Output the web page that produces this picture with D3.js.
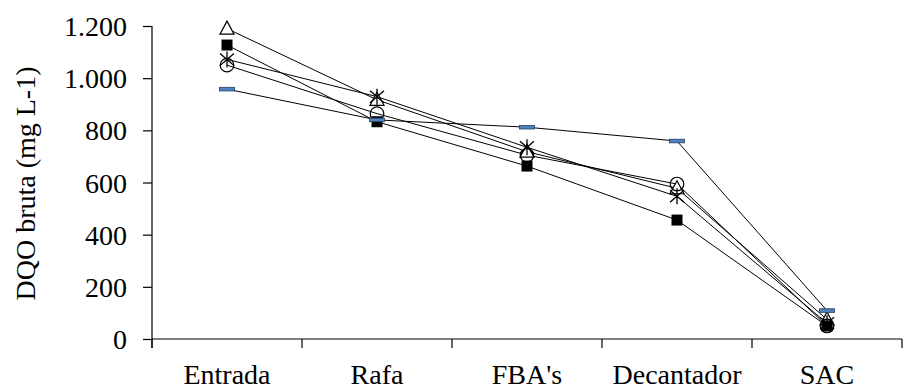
<!DOCTYPE html>
<html>
<head>
<meta charset="utf-8">
<script src="https://cdn.jsdelivr.net/npm/d3@7"></script>
<style>
  html, body { margin: 0; padding: 0; background: #fff; }
</style>
</head>
<body>
<svg id="chart" width="917" height="390"></svg>
<script>
// Treatment stages along the plant
const categories = ["Entrada", "Rafa", "FBA's", "Decantador", "SAC"];

// Raw COD (mg/L) per sampling campaign
const seriesTriangle = [1190, 917, 718, 578, 75];
const seriesSquare   = [1127, 833, 663, 456, 50];
const seriesStar     = [1072, 929, 735, 547, 60];
const seriesCircle   = [1050, 864, 705, 594, 50];
const seriesDash     = [958, 840, 812, 759, 109];

const yTicks = [0, 200, 400, 600, 800, 1000, 1200];
const yTitle = "DQO bruta (mg L-1)";

const series = [
  { name: "triangle", values: seriesTriangle },
  { name: "square",   values: seriesSquare },
  { name: "star",     values: seriesStar },
  { name: "circle",   values: seriesCircle },
  { name: "dash",     values: seriesDash }
];

const serif = "'Liberation Serif'";
const svg = d3.select("#chart");
const plotLeft = 152, plotRight = 902, plotTop = 26, plotBottom = 339;
const fontSize = 28;

const x = d3.scaleBand().domain(categories).range([plotLeft, plotRight]).padding(0);
const y = d3.scaleLinear().domain([0, 1200]).range([plotBottom, plotTop]);

const ptBR = d3.formatLocale({ decimal: ",", thousands: ".", grouping: [3], currency: ["", ""] });
const fmt = ptBR.format(",");

// Y axis
const yAxis = svg.append("g")
  .attr("transform", `translate(${plotLeft},0)`)
  .call(d3.axisLeft(y).tickValues(yTicks).tickSize(9).tickPadding(16).tickFormat(fmt));
yAxis.attr("font-family", null).attr("font-size", null);
yAxis.select(".domain").attr("d", `M0,${plotTop}V${plotBottom + 9}`).attr("stroke", "#000").attr("stroke-width", 1.2);
yAxis.selectAll(".tick line").attr("stroke", "#000").attr("stroke-width", 1.2);
yAxis.selectAll("text")
  .style("font-family", serif)
  .style("font-size", fontSize + "px")
  .attr("fill", "#000")
  .attr("dy", "0.34em");

// X axis: category labels centred, ticks on category boundaries
const xAxis = svg.append("g")
  .attr("transform", `translate(0,${plotBottom})`)
  .call(d3.axisBottom(x).tickSize(0).tickPadding(25));
xAxis.attr("font-family", null).attr("font-size", null);
xAxis.select(".domain").attr("d", `M${plotLeft},0H${plotRight}`).attr("stroke", "#000").attr("stroke-width", 1.2);
xAxis.selectAll("text")
  .style("font-family", serif)
  .style("font-size", fontSize + "px")
  .attr("fill", "#000")
  .attr("dy", "0.71em");
const bounds = categories.map(c => x(c)).concat([x(categories[categories.length - 1]) + x.bandwidth()]);
xAxis.selectAll(".bound").data(bounds).enter().append("line")
  .attr("class", "bound")
  .attr("x1", d => d).attr("x2", d => d)
  .attr("y1", 0).attr("y2", 9)
  .attr("stroke", "#000").attr("stroke-width", 1.2);

// Y axis title
svg.append("text")
  .attr("transform", `translate(35,${(plotTop + plotBottom) / 2 + 1}) rotate(-90)`)
  .attr("text-anchor", "middle")
  .style("font-family", serif)
  .style("font-size", fontSize + "px")
  .attr("fill", "#000")
  .text(yTitle);

const cx = c => x(c) + x.bandwidth() / 2;

// Lines
const line = d3.line().x((d, i) => cx(categories[i])).y(d => y(d));
svg.append("g").selectAll("path").data(series).enter().append("path")
  .attr("d", s => line(s.values))
  .attr("fill", "none")
  .attr("stroke", "#000")
  .attr("stroke-width", 1);

// Markers
const markers = svg.append("g");
series.forEach(s => {
  const g = markers.append("g").attr("class", "m-" + s.name);
  s.values.forEach((v, i) => {
    const px = cx(categories[i]), py = y(v);
    const t = g.append("g").attr("transform", `translate(${px},${py})`);
    if (s.name === "triangle") {
      t.append("path").attr("d", "M0,-7.5L7,5.5L-7,5.5Z")
        .attr("fill", "#fff").attr("stroke", "#000").attr("stroke-width", 1.2);
    } else if (s.name === "square") {
      t.append("rect").attr("x", -5.5).attr("y", -5.5).attr("width", 11).attr("height", 11)
        .attr("fill", "#000");
    } else if (s.name === "star") {
      t.append("path").attr("d", "M-7,-6L7,6M-7,6L7,-6M0,-8V8")
        .attr("fill", "none").attr("stroke", "#000").attr("stroke-width", 1.3);
    } else if (s.name === "circle") {
      t.append("circle").attr("r", 6.8)
        .attr("fill", "none").attr("stroke", "#000").attr("stroke-width", 1.2);
    } else {
      t.append("rect").attr("x", -7.5).attr("y", -1.8).attr("width", 15).attr("height", 3.6)
        .attr("fill", "#4f81bd").attr("stroke", "#1f3f66").attr("stroke-width", 0.8);
    }
  });
});
</script>
</body>
</html>
